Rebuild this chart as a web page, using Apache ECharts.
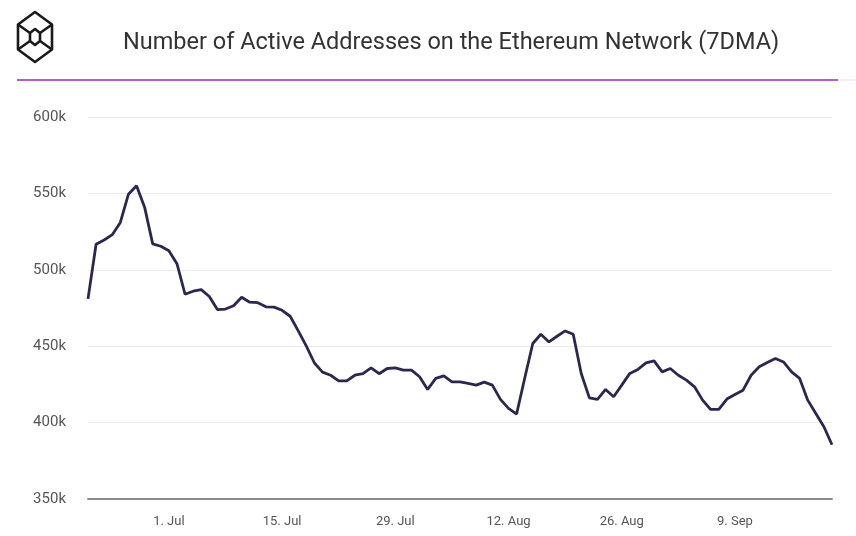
<!DOCTYPE html>
<html>
<head>
<meta charset="utf-8">
<script src="https://cdn.jsdelivr.net/npm/echarts@6/dist/echarts.min.js"></script>
<style>
html,body{margin:0;padding:0;background:#fff;}
#chart{width:856px;height:536px;}
</style>
</head>
<body>
<div id="chart"></div>
<script>
// Data: daily 7-day moving average of active addresses, 21 Jun - 21 Sep
const startDate = '2019-06-21';
const values = [
  481, 516.7, 519.5, 523, 531, 549.5, 555, 541, 517, 515.4,
  512.5, 504, 484, 486, 487, 482.5, 474, 474.3, 476.5, 482,
  478.8, 478.5, 475.8, 475.6, 473.5, 469.6, 460, 450, 439, 433,
  431, 427.3, 427.3, 431, 432, 435.8, 432, 435.4, 435.8, 434.3,
  434.3, 430, 421.7, 428.9, 430.6, 426.7, 426.7, 425.6, 424.5, 426.5,
  424.5, 415.2, 409.3, 405.6, 429, 451.8, 457.8, 452.8, 456.5, 460,
  457.8, 432, 416.2, 415.2, 421.7, 416.9, 424.5, 432.2, 434.8, 439.1,
  440.4, 433.2, 435.4, 431, 427.8, 423.4, 414.7, 408.6, 408.6, 415.4,
  418.4, 421.2, 431, 436.5, 439.3, 442, 439.7, 433.2, 428.9, 414.7,
  406, 397.3, 385.5
];
const tickDates = ['2019-07-01','2019-07-15','2019-07-29','2019-08-12','2019-08-26','2019-09-09'];
const tickLabels = ['1. Jul','15. Jul','29. Jul','12. Aug','26. Aug','9. Sep'];
const yTicks = [350, 400, 450, 500, 550, 600];
const titleText = 'Number of Active Addresses on the Ethereum Network (7DMA)';

// build category list (one per day)
const categories = [];
(function(){
  const d0 = new Date(startDate + 'T00:00:00Z');
  for (let i = 0; i < values.length; i++) {
    const d = new Date(d0.getTime() + i * 86400000);
    categories.push(d.toISOString().slice(0, 10));
  }
})();
const seriesData = values.map(v => v * 1000);

const chart = echarts.init(document.getElementById('chart'), null, {renderer: 'canvas'});

// logo geometry
const cx = 35, cy = 37, rw = 17, rh = 25;
const outer = [[cx, cy - rh], [cx + rw, cy - rh / 2], [cx + rw, cy + rh / 2], [cx, cy + rh], [cx - rw, cy + rh / 2], [cx - rw, cy - rh / 2]];
const iw = 5, ih = 8;
const inner = [[cx, cy - ih], [cx + iw, cy - ih / 2], [cx + iw, cy + ih / 2], [cx, cy + ih], [cx - iw, cy + ih / 2], [cx - iw, cy - ih / 2]];
const logoStyle = {stroke: '#1a1a1a', lineWidth: 2.6, fill: null, lineJoin: 'round'};

chart.setOption({
  animation: false,
  backgroundColor: '#fff',
  grid: {left: 88, right: 24, top: 117, bottom: 37, containLabel: false},
  xAxis: {
    type: 'category',
    data: categories,
    boundaryGap: false,
    axisLine: {show: true, lineStyle: {color: '#8c8c8c', width: 2}},
    axisTick: {show: false},
    axisLabel: {
      interval: function (idx, val) { return tickDates.indexOf(val) >= 0; },
      formatter: function (val) { const k = tickDates.indexOf(val); return k >= 0 ? tickLabels[k] : ''; },
      color: '#555',
      fontFamily: 'Roboto',
      fontSize: 13,
      margin: 16
    },
    splitLine: {show: false}
  },
  yAxis: {
    type: 'value',
    min: yTicks[0] * 1000,
    max: yTicks[yTicks.length - 1] * 1000,
    interval: 50000,
    axisLine: {show: false},
    axisTick: {show: false},
    axisLabel: {
      formatter: function (v) { return (v / 1000) + 'k'; },
      color: '#555',
      fontFamily: 'Roboto',
      fontSize: 15,
      margin: 22
    },
    splitLine: {lineStyle: {color: '#ececec', width: 1}}
  },
  series: [{
    type: 'line',
    data: seriesData,
    showSymbol: false,
    smooth: false,
    lineStyle: {color: '#2b2850', width: 2.8},
    z: 3
  }],
  graphic: [
    {type: 'text', left: 123, top: 31, style: {text: titleText, fontFamily: 'Roboto', fontSize: 23.5, fill: '#333'}},
    {type: 'rect', shape: {x: 17, y: 79, width: 821, height: 2}, style: {fill: '#b05fd0'}},
    {type: 'rect', shape: {x: 838, y: 79.5, width: 18, height: 1}, style: {fill: '#e8d8ef'}},
    {type: 'polygon', shape: {points: outer}, style: logoStyle},
    {type: 'polygon', shape: {points: inner}, style: logoStyle},
    {type: 'polyline', shape: {points: [outer[5], inner[5]]}, style: logoStyle},
    {type: 'polyline', shape: {points: [outer[1], inner[1]]}, style: logoStyle},
    {type: 'polyline', shape: {points: [outer[4], inner[4]]}, style: logoStyle},
    {type: 'polyline', shape: {points: [outer[2], inner[2]]}, style: logoStyle}
  ]
});
</script>
</body>
</html>
